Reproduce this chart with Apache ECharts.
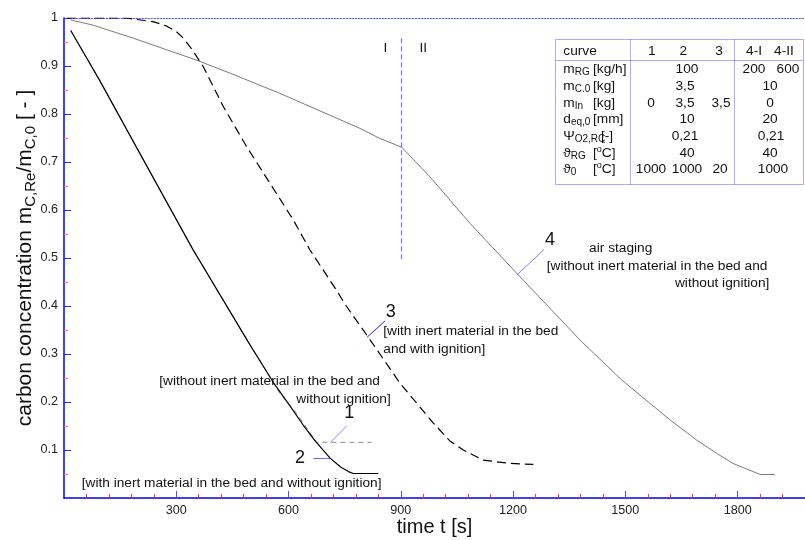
<!DOCTYPE html>
<html><head><meta charset="utf-8">
<script src="https://cdn.jsdelivr.net/npm/echarts@6/dist/echarts.min.js"></script>
<style>html,body{margin:0;padding:0;background:#fff}#c{width:805px;height:540px}</style>
</head><body><div id="c"></div>
<script>
const FONT = '"Liberation Sans", Arial, Helvetica, sans-serif';

// ---- data (time in s, carbon concentration in -) ----
const curve1Time  = [18, 96, 221, 345, 497, 577, 622, 675, 822];
const curve1Value = [0.974, 0.869, 0.692, 0.517, 0.319, 0.218, 0.176, 0.116, 0.116];

const curve2Time  = [18, 96, 221, 345, 497, 560, 600, 640, 671, 711, 740, 760, 773, 840];
const curve2Value = [0.974, 0.869, 0.692, 0.517, 0.319, 0.240, 0.196, 0.151, 0.119, 0.083, 0.064, 0.055, 0.051, 0.051];

const curve3Time  = [8, 165, 240, 275, 300, 320, 337, 372, 426, 488, 613, 657, 728, 755, 813, 898, 987, 1031, 1067, 1120, 1192, 1254];
const curve3Value = [1.0, 1.0, 0.992, 0.983, 0.972, 0.957, 0.940, 0.899, 0.815, 0.732, 0.579, 0.517, 0.433, 0.399, 0.335, 0.239, 0.156, 0.119, 0.100, 0.079, 0.072, 0.070];

const curve4Time  = [18, 78, 185, 355, 444, 577, 791, 844, 902, 978, 1085, 1210, 1379, 1490, 1619, 1690, 1744, 1788, 1860, 1900];
const curve4Value = [0.996, 0.985, 0.958, 0.912, 0.885, 0.843, 0.770, 0.749, 0.731, 0.669, 0.572, 0.468, 0.329, 0.246, 0.163, 0.121, 0.093, 0.072, 0.049, 0.049];

const xMajorTicks = [300, 600, 900, 1200, 1500, 1800];
const xMinorTicks = [60,120,180,240,360,420,480,540,660,720,780,840,960,1020,1080,1140,1260,1320,1380,1440,1560,1620,1680,1740,1860,1920];
const yMajorTicks = [0.1, 0.2, 0.3, 0.4, 0.5, 0.6, 0.7, 0.8, 0.9, 1];
const yMinorTicks = [0.05, 0.15, 0.25, 0.35, 0.45, 0.55, 0.65, 0.75, 0.85, 0.95];

// phase boundary I / II
const phaseBoundaryTime = 900;
const phaseBoundaryRange = [0.958, 0.496];

// leader lines [fromTime, fromValue, toTime, toValue]
const leader1 = [755, 0.150, 711, 0.115];
const leader2 = [666, 0.083, 711, 0.083];
const leader3 = [858, 0.369, 810, 0.335];
const leader4 = [1283, 0.518, 1211, 0.465];

// table content
const tableHeader = ['1', '2', '3', '4-I', '4-II'];
const tableRowSymbols = ['{t|m}{sub|RG}', '{t|m}{sub|C.0}', '{t|m}{sub|In}', '{t|d}{sub|eq,0}', '{t|Ψ}{sub|O2,RC}', '{t|ϑ}{sub|RG}', '{t|ϑ}{sub|0}'];
const tableRowUnits = ['[kg/h]', '[kg]', '[kg]', '[mm]', '[-]', '{t|[}{sup|o}{t|C]}', '{t|[}{sup|o}{t|C]}'];
const tableRowValues = [
  ['100', '200', '600'],
  ['3,5', '10'],
  ['0', '3,5', '3,5', '0'],
  ['10', '20'],
  ['0,21', '0,21'],
  ['40', '40'],
  ['1000', '1000', '20', '1000']
];

// ---- layout helpers ----
const tableColX = [
  [687, 754, 788],
  [685, 770],
  [651, 685, 721, 770],
  [687, 770],
  [685, 771],
  [687, 770],
  [651, 687, 720, 773]
];
const tableHeaderX = [651.7, 683.3, 719, 754, 784];
const tableUnitX = [593, 593, 593, 593, 601, 593, 593];

function pairs(t, v) { return t.map((x, i) => [x, v[i]]); }
function seg(a) { return [{ coord: [a[0], a[1]] }, { coord: [a[2], a[3]] }]; }

const textColor = '#111';
const richBase = {
  t: { fontSize: 13.7, fontFamily: FONT, fill: textColor, color: textColor },
  sub: { fontSize: 10, fontFamily: FONT, fill: textColor, color: textColor, padding: [6, 0, 0, 0] },
  sup: { fontSize: 9, fontFamily: FONT, fill: textColor, color: textColor, padding: [0, 0, 7, 0] }
};

function txt(text, x, y, align, size, rich) {
  const st = {
    text: text, fontSize: size || 13.7, fontFamily: FONT, fill: textColor,
    align: align || 'left', verticalAlign: 'middle',
    textAlign: align || 'left', textVerticalAlign: 'middle'
  };
  if (rich) st.rich = richBase;
  return { type: 'text', x: x, y: y, z: 50, silent: true, style: st };
}

const graphics = [];
// table frame
const tblStroke = { fill: 'none', stroke: '#5a5aff', lineWidth: 1, lineDash: [1, 1] };
graphics.push({ type: 'rect', shape: { x: 555.5, y: 39.5, width: 248, height: 145 }, style: tblStroke, silent: true });
graphics.push({ type: 'line', shape: { x1: 555.5, y1: 60.5, x2: 803.5, y2: 60.5 }, style: tblStroke, silent: true });
graphics.push({ type: 'line', shape: { x1: 630.5, y1: 39.5, x2: 630.5, y2: 184.5 }, style: tblStroke, silent: true });
graphics.push({ type: 'line', shape: { x1: 734.5, y1: 39.5, x2: 734.5, y2: 184.5 }, style: tblStroke, silent: true });
graphics.push(txt('curve', 563.3, 51.7, 'left', 13.7));
tableHeader.forEach((h, i) => graphics.push(txt(h, tableHeaderX[i], 51.7, 'center', 13.7)));
tableRowSymbols.forEach((s, r) => {
  const y = 69.5 + r * 16.65;
  graphics.push(txt(s, 563.3, y, 'left', 13.7, true));
  graphics.push(txt(tableRowUnits[r], tableUnitX[r], y, 'left', 13.7, true));
  tableRowValues[r].forEach((v, k) => graphics.push(txt(v, tableColX[r][k], y, 'center', 13.7)));
});
// phase labels
graphics.push(txt('I', 385.3, 48.3, 'center', 13.7));
graphics.push(txt('II', 423.3, 48.3, 'center', 13.7));
// curve annotations
graphics.push(txt('4', 550, 240, 'center', 18));
graphics.push(txt('air staging', 620.7, 248.3, 'center', 13.7));
graphics.push(txt('[without inert material in the bed and', 546.7, 266.7, 'left', 13.7));
graphics.push(txt('without ignition]', 769.3, 283.3, 'right', 13.7));
graphics.push(txt('3', 390.7, 311.7, 'center', 18));
graphics.push(txt('[with inert material in the bed', 383.3, 331.7, 'left', 13.7));
graphics.push(txt('and with ignition]', 383.3, 349, 'left', 13.7));
graphics.push(txt('[without inert material in the bed and', 159.3, 381, 'left', 13.7));
graphics.push(txt('without ignition]', 390.7, 399.7, 'right', 13.7));
graphics.push(txt('1', 349.3, 413.3, 'center', 18));
graphics.push(txt('2', 300, 458.3, 'center', 18));
graphics.push(txt('[with inert material in the bed and without ignition]', 81.7, 483.3, 'left', 13.7));

const gridRect = { left: 64, top: 18, right: 0, bottom: 42, containLabel: false, outerBoundsMode: 'none' };
const noSplit = { show: false };
const plainNum = v => String(v);

const markBase = { symbol: ['none', 'none'], silent: true, label: { show: false }, emphasis: { disabled: true }, animation: false };

const option = {
  animation: false,
  backgroundColor: '#fff',
  grid: [Object.assign({}, gridRect), Object.assign({}, gridRect)],
  xAxis: [
    {
      gridIndex: 0, type: 'value', min: 0, max: 1980, position: 'bottom',
      axisLine: { show: true, onZero: false, lineStyle: { color: '#0000e6', width: 1.5 } },
      axisTick: { show: true, inside: true, length: 7, customValues: xMajorTicks, lineStyle: { color: '#4d4dff', width: 1 } },
      axisLabel: { show: true, customValues: xMajorTicks, formatter: plainNum, margin: 6, fontSize: 12.6, color: '#222', fontFamily: FONT },
      splitLine: noSplit,
      name: 'time t [s]', nameLocation: 'middle', nameGap: 19, nameMoveOverlap: false,
      nameTextStyle: { fontSize: 20, color: '#111', fontFamily: FONT }
    },
    {
      gridIndex: 0, type: 'value', min: 0, max: 1980, position: 'top',
      axisLine: { show: true, onZero: false, lineStyle: { color: '#5a5aff', width: 1, type: [1.5, 1.5] } },
      axisTick: { show: false }, axisLabel: { show: false }, splitLine: noSplit
    },
    {
      gridIndex: 1, type: 'value', min: 0, max: 1980, position: 'bottom',
      axisLine: { show: false },
      axisTick: { show: true, inside: true, length: 4, customValues: xMinorTicks, lineStyle: { color: '#ff2a2a', width: 1 } },
      axisLabel: { show: false }, splitLine: noSplit
    }
  ],
  yAxis: [
    {
      gridIndex: 0, type: 'value', min: 0, max: 1, position: 'left',
      axisLine: { show: true, onZero: false, lineStyle: { color: '#0000ff', width: 1.5 } },
      axisTick: { show: true, inside: true, length: 7, customValues: yMajorTicks, lineStyle: { color: '#2b2bff', width: 1 } },
      axisLabel: { show: true, customValues: yMajorTicks, formatter: plainNum, margin: 6, fontSize: 12.6, color: '#222', fontFamily: FONT },
      splitLine: noSplit,
      name: '{a|carbon concentration m}{s|C,Re}{a|/m}{s|C,0}{a| [ - ]}',
      nameLocation: 'middle', nameGap: 26, nameRotate: 90, nameMoveOverlap: false,
      nameTextStyle: {
        color: '#111', fontFamily: FONT, fontSize: 21,
        rich: {
          a: { fontSize: 21, fontFamily: FONT, color: '#111' },
          s: { fontSize: 15, fontFamily: FONT, color: '#111', padding: [10, 0, 0, 0] }
        }
      }
    },
    {
      gridIndex: 1, type: 'value', min: 0, max: 1, position: 'left',
      axisLine: { show: false },
      axisTick: { show: true, inside: true, length: 4, customValues: yMinorTicks, lineStyle: { color: '#ff6a6a', width: 1 } },
      axisLabel: { show: false }, splitLine: noSplit
    }
  ],
  series: [
    {
      name: '1', type: 'line', xAxisIndex: 0, yAxisIndex: 0, data: pairs(curve1Time, curve1Value),
      showSymbol: false, symbol: 'none', z: 2,
      lineStyle: { color: '#8c8c8c', width: 1, type: [5, 4] },
      markLine: Object.assign({}, markBase, { lineStyle: { color: '#8a8aff', width: 1, type: 'solid' }, data: [seg(leader1)] })
    },
    {
      name: '2', type: 'line', xAxisIndex: 0, yAxisIndex: 0, data: pairs(curve2Time, curve2Value),
      showSymbol: false, symbol: 'none', z: 3,
      lineStyle: { color: '#000', width: 1.2, type: 'solid' },
      markLine: Object.assign({}, markBase, { lineStyle: { color: '#6a6aff', width: 1, type: 'solid' }, data: [seg(leader2)] })
    },
    {
      name: '3', type: 'line', xAxisIndex: 0, yAxisIndex: 0, data: pairs(curve3Time, curve3Value),
      showSymbol: false, symbol: 'none', z: 3,
      lineStyle: { color: '#000', width: 1.2, type: [9, 5] },
      markLine: Object.assign({}, markBase, { lineStyle: { color: '#1f1fff', width: 1, type: 'solid' }, data: [seg(leader3)] })
    },
    {
      name: '4', type: 'line', xAxisIndex: 0, yAxisIndex: 0, data: pairs(curve4Time, curve4Value),
      showSymbol: false, symbol: 'none', z: 2,
      lineStyle: { color: '#7a7a7a', width: 1, type: 'solid' },
      markLine: Object.assign({}, markBase, { lineStyle: { color: '#8080ff', width: 1, type: 'solid' }, data: [seg(leader4)] })
    },
    {
      name: 'phase boundary', type: 'line', xAxisIndex: 0, yAxisIndex: 0, data: [],
      showSymbol: false, symbol: 'none', z: 1,
      markLine: Object.assign({}, markBase, {
        lineStyle: { color: '#7878ff', width: 1.2, type: [5, 3] },
        data: [[{ coord: [phaseBoundaryTime, phaseBoundaryRange[0]] }, { coord: [phaseBoundaryTime, phaseBoundaryRange[1]] }]]
      })
    }
  ],
  graphic: graphics
};

const chart = echarts.init(document.getElementById('c'), null, { renderer: 'canvas', width: 805, height: 540 });
chart.setOption(option);
</script>
</body></html>
